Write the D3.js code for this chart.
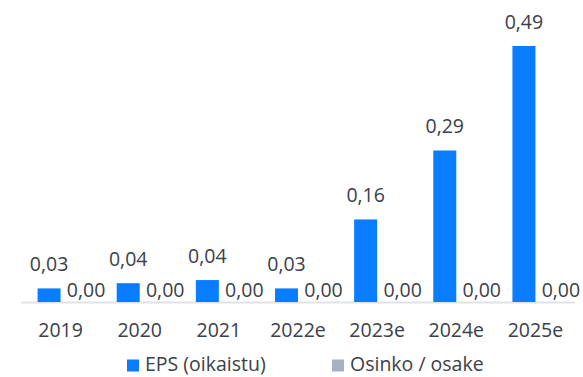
<!DOCTYPE html>
<html>
<head>
<meta charset="utf-8">
<script src="https://cdn.jsdelivr.net/npm/d3@7"></script>
<style>
  html, body { margin: 0; padding: 0; background: #fff; }
  svg { display: block; font-family: "Open Sans", Lato, sans-serif; }
</style>
</head>
<body>
<svg id="chart" width="583" height="377"></svg>
<script>
// Years shown on the x axis
const years = ["2019", "2020", "2021", "2022e", "2023e", "2024e", "2025e"];
// Adjusted earnings per share
const eps = [0.026, 0.036, 0.042, 0.026, 0.158, 0.29, 0.49];
// Dividend per share
const dividend = [0, 0, 0, 0, 0, 0, 0];
// Series names for the legend
const seriesNames = ["EPS (oikaistu)", "Osinko / osake"];

const colors = { eps: "#0a7cff", div: "#a9afc3" };
const textColor = "#3b404a";
const fontSize = 19.5;
const fmt = v => d3.format(".2f")(v).replace(".", ",");

const svg = d3.select("#chart");
const plot = { left: 21, right: 575, top: 46, bottom: 302 };

const x0 = d3.scaleBand().domain(years).range([plot.left, plot.right]);
const x1 = d3.scaleBand().domain(["eps", "div"])
  .range([0, x0.bandwidth()]).paddingInner(0).paddingOuter(0.72);
const y = d3.scaleLinear().domain([0, 0.49]).range([plot.bottom, plot.top]);

const rows = years.map((yr, i) => ({ yr, eps: eps[i], div: dividend[i] }));

// Baseline
svg.append("line")
  .attr("x1", plot.left).attr("x2", plot.right)
  .attr("y1", plot.bottom + 0.5).attr("y2", plot.bottom + 0.5)
  .attr("stroke", "#dfe3e9").attr("stroke-width", 2);

const groups = svg.append("g").selectAll("g").data(rows).join("g")
  .attr("transform", d => `translate(${x0(d.yr)},0)`);

["eps", "div"].forEach(key => {
  groups.append("rect")
    .attr("x", x1(key))
    .attr("width", x1.bandwidth())
    .attr("y", d => y(d[key]))
    .attr("height", d => y(0) - y(d[key]))
    .attr("fill", colors[key]);

  groups.append("text")
    .attr("x", d => x1(key) + x1.bandwidth() / 2 + (d[key] === 0 ? 14 : 0))
    .attr("y", d => d[key] === 0 ? y(0) - 5 : y(d[key]) - 17)
    .attr("text-anchor", "middle")
    .attr("font-size", fontSize)
    .attr("fill", textColor)
    .text(d => fmt(d[key]));
});

// X axis labels
const xAxis = d3.axisBottom(x0).tickSize(0).tickPadding(0);
const ax = svg.append("g").attr("transform", `translate(0,${plot.bottom})`).call(xAxis);
ax.select(".domain").remove();
ax.selectAll("text")
  .attr("y", 35).attr("dy", null)
  .attr("font-size", fontSize)
  .attr("font-family", "'Open Sans', Lato, sans-serif")
  .attr("fill", textColor);

// Legend
const legendItems = [
  { name: seriesNames[0], color: colors.eps, x: 127 },
  { name: seriesNames[1], color: colors.div, x: 332 }
];
const lg = svg.append("g").selectAll("g").data(legendItems).join("g")
  .attr("transform", d => `translate(${d.x},359.5)`);
lg.append("rect").attr("width", 12).attr("height", 12).attr("fill", d => d.color);
lg.append("text").attr("x", 18).attr("y", 11.5)
  .attr("font-size", fontSize).attr("fill", textColor)
  .text(d => d.name);
</script>
</body>
</html>
